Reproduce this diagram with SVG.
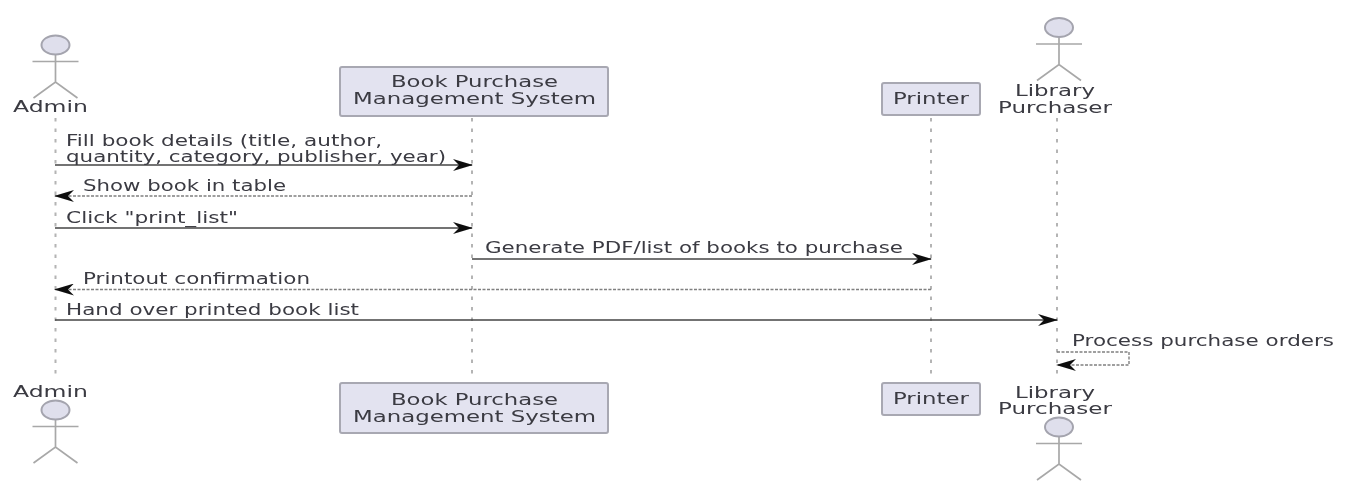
<svg xmlns="http://www.w3.org/2000/svg" width="1350" height="485" viewBox="0 0 1350 485">
<style>
text{font-family:"DejaVu Sans",sans-serif;font-size:15px;fill:#3a3a42}
.box{fill:#e3e3f0;stroke:#a8a8b2;stroke-width:2}
.head{fill:#dfdfec;stroke:#a4a4ae;stroke-width:2}
.fig{fill:none;stroke:#a8a8a8;stroke-width:1.7}
.life{stroke:#b4b4b4;stroke-width:2;stroke-dasharray:3.5 7;fill:none}
.sol{stroke:#444;stroke-width:1.6;fill:none}
.dash{stroke:#808080;stroke-width:1.4;stroke-dasharray:3 1.500;fill:none}
</style>
<defs>
<filter id="soft" x="0" y="0" width="1" height="1" filterUnits="objectBoundingBox"><feGaussianBlur stdDeviation="0.55"/></filter>
<marker id="ah" viewBox="0 0 20 12" refX="19" refY="6" markerWidth="20" markerHeight="12" markerUnits="userSpaceOnUse" orient="auto-start-reverse"><path d="M0 0L20 6L0 12L6 6Z" fill="#111"/></marker>
<g id="stick"><path class="fig" d="M0 10V37M-23 16.500H23M-22 53L0 37L22 53"/><ellipse class="head" cx="0" cy="0" rx="14" ry="9.500"/></g>
</defs>
<g filter="url(#soft)">
<rect x="0" y="0" width="1350" height="485" fill="#fff"/>
<g id="lifelines">
<path class="life" d="M55.500 118V377M472 118V377M931 118V377M1057 118V377"/>
</g>
<g id="connectors">
<path class="sol" marker-end="url(#ah)" d="M55 165H472"/>
<path class="dash" marker-end="url(#ah)" d="M472 196H55"/>
<path class="sol" marker-end="url(#ah)" d="M55 228H472"/>
<path class="sol" marker-end="url(#ah)" d="M472 259H931"/>
<path class="dash" marker-end="url(#ah)" d="M931 289.500H55"/>
<path class="sol" marker-end="url(#ah)" d="M55 320H1057"/>
<path class="dash" marker-end="url(#ah)" d="M1057 352H1129V365H1057"/>
</g>
<g id="labels">
<text x="66" y="146" textLength="316" lengthAdjust="spacingAndGlyphs">Fill book details (title, author,</text>
<text x="66" y="162" textLength="380" lengthAdjust="spacingAndGlyphs">quantity, category, publisher, year)</text>
<text x="83" y="191" textLength="203" lengthAdjust="spacingAndGlyphs">Show book in table</text>
<text x="66" y="223" textLength="172" lengthAdjust="spacingAndGlyphs">Click "print_list"</text>
<text x="485" y="253" textLength="418" lengthAdjust="spacingAndGlyphs">Generate PDF/list of books to purchase</text>
<text x="83" y="284" textLength="227" lengthAdjust="spacingAndGlyphs">Printout confirmation</text>
<text x="66" y="315" textLength="293" lengthAdjust="spacingAndGlyphs">Hand over printed book list</text>
<text x="1072" y="346" textLength="262" lengthAdjust="spacingAndGlyphs">Process purchase orders</text>
</g>
<g id="admin-top"><use href="#stick" x="55.500" y="45"/><text x="13" y="112" textLength="75" lengthAdjust="spacingAndGlyphs">Admin</text></g>
<g id="bpms-top"><rect class="box" x="340" y="67" width="268" height="49" rx="2"/><text x="391" y="87" textLength="167" lengthAdjust="spacingAndGlyphs">Book Purchase</text><text x="353" y="104" textLength="243" lengthAdjust="spacingAndGlyphs">Management System</text></g>
<g id="printer-top"><rect class="box" x="882" y="83" width="98" height="32" rx="2"/><text x="893" y="104" textLength="76" lengthAdjust="spacingAndGlyphs">Printer</text></g>
<g id="library-top"><use href="#stick" x="1059" y="27.500"/><text x="1015" y="96" textLength="80" lengthAdjust="spacingAndGlyphs">Library</text><text x="998" y="113" textLength="114" lengthAdjust="spacingAndGlyphs">Purchaser</text></g>
<g id="admin-bottom"><text x="13" y="397" textLength="75" lengthAdjust="spacingAndGlyphs">Admin</text><use href="#stick" x="55.500" y="410"/></g>
<g id="bpms-bottom"><rect class="box" x="340" y="383" width="268" height="50" rx="2"/><text x="391" y="405" textLength="167" lengthAdjust="spacingAndGlyphs">Book Purchase</text><text x="353" y="422" textLength="243" lengthAdjust="spacingAndGlyphs">Management System</text></g>
<g id="printer-bottom"><rect class="box" x="882" y="383" width="98" height="32" rx="2"/><text x="893" y="404" textLength="76" lengthAdjust="spacingAndGlyphs">Printer</text></g>
<g id="library-bottom"><text x="1015" y="398" textLength="80" lengthAdjust="spacingAndGlyphs">Library</text><text x="998" y="414" textLength="114" lengthAdjust="spacingAndGlyphs">Purchaser</text><use href="#stick" x="1059" y="427"/></g>
</g>
</svg>
